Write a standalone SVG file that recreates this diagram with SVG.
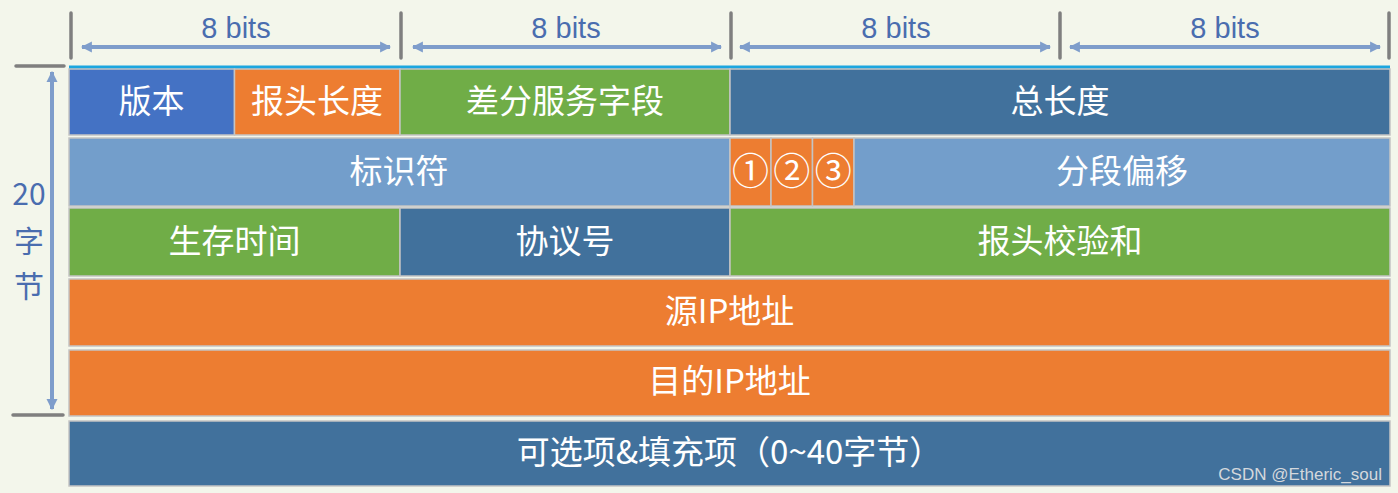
<svg xmlns="http://www.w3.org/2000/svg" width="1398" height="493" viewBox="0 0 1398 493">
<style>
.cell{stroke:#c4c4c4;stroke-width:1.5}
.blue{fill:#4472C4}.orange{fill:#ED7D31}.green{fill:#70AD47}.dark{fill:#41719C}.light{fill:#739ECB}
.t{font-family:"Noto Sans CJK SC","Noto Sans",sans-serif;font-size:33px;fill:#ffffff;text-anchor:middle}
.c{font-family:"Noto Sans CJK SC","Noto Sans",sans-serif;font-size:37px;fill:#ffffff;text-anchor:middle}
.dim{font-family:"Liberation Sans","Noto Sans",sans-serif;font-size:29px;fill:#4A6DAF;text-anchor:middle}
.side{font-family:"Noto Sans CJK SC","Liberation Sans",sans-serif;font-size:30px;fill:#4A6DAF;text-anchor:middle}
.tick{stroke:#7f7f7f;stroke-width:3.5;stroke-linecap:round}
.arr{stroke:#7E9DCB;stroke-width:4;fill:none}
</style>
<defs>
<marker id="ah" viewBox="0 0 10 10" refX="9" refY="5" markerWidth="11" markerHeight="12" markerUnits="userSpaceOnUse" orient="auto-start-reverse">
<path d="M0,0 L10,5 L0,10 Z" fill="#7E9DCB"/>
</marker>
</defs>
<rect x="0" y="0" width="1398" height="493" fill="#F3F6EB"/>
<g id="dimensions">
<line class="tick" x1="71" y1="13" x2="71" y2="58"/>
<line class="tick" x1="401" y1="13" x2="401" y2="58"/>
<line class="tick" x1="731" y1="13" x2="731" y2="58"/>
<line class="tick" x1="1060" y1="13" x2="1060" y2="58"/>
<line class="tick" x1="1389" y1="13" x2="1389" y2="58"/>
<line class="tick" x1="16" y1="66" x2="64" y2="66"/>
<line class="tick" x1="13" y1="415" x2="63" y2="415"/>
<text class="dim" x="236" y="38">8 bits</text>
<text class="dim" x="566" y="38">8 bits</text>
<text class="dim" x="896" y="38">8 bits</text>
<text class="dim" x="1225" y="38">8 bits</text>
<text class="side" x="29" y="205">20</text>
<text class="side" x="29" y="252">字</text>
<text class="side" x="29" y="297">节</text>
</g>
<g id="connectors">
<line class="arr" x1="82" y1="47" x2="390" y2="47" marker-start="url(#ah)" marker-end="url(#ah)"/>
<line class="arr" x1="413" y1="47" x2="721" y2="47" marker-start="url(#ah)" marker-end="url(#ah)"/>
<line class="arr" x1="740" y1="47" x2="1050" y2="47" marker-start="url(#ah)" marker-end="url(#ah)"/>
<line class="arr" x1="1070" y1="47" x2="1380" y2="47" marker-start="url(#ah)" marker-end="url(#ah)"/>
<line class="arr" x1="52" y1="72" x2="52" y2="409" marker-start="url(#ah)" marker-end="url(#ah)"/>
</g>
<rect x="69" y="65.5" width="1321" height="3.5" fill="#1CA6DF"/>
<g id="version"><rect class="cell blue" x="69" y="69" width="165.5" height="66"/><text class="t" x="151.5" y="113">版本</text></g>
<g id="ihl"><rect class="cell orange" x="234.5" y="69" width="165.5" height="66"/><text class="t" x="317" y="113">报头长度</text></g>
<g id="dsfield"><rect class="cell green" x="400" y="69" width="330" height="66"/><text class="t" x="565" y="113">差分服务字段</text></g>
<g id="totallen"><rect class="cell dark" x="730" y="69" width="660" height="66"/><text class="t" x="1060" y="113">总长度</text></g>
<g id="ident"><rect class="cell light" x="69" y="138" width="661" height="68"/><text class="t" x="399" y="183">标识符</text></g>
<g id="flag1"><rect class="cell orange" x="730" y="138" width="41" height="68"/><text class="c" x="750.5" y="185">①</text></g>
<g id="flag2"><rect class="cell orange" x="771" y="138" width="41.5" height="68"/><text class="c" x="791.8" y="185">②</text></g>
<g id="flag3"><rect class="cell orange" x="812.5" y="138" width="41.5" height="68"/><text class="c" x="833.2" y="185">③</text></g>
<g id="fragoff"><rect class="cell light" x="854" y="138" width="536" height="68"/><text class="t" x="1122" y="183">分段偏移</text></g>
<g id="ttl"><rect class="cell green" x="69" y="208" width="331" height="68"/><text class="t" x="234.5" y="253">生存时间</text></g>
<g id="proto"><rect class="cell dark" x="400" y="208" width="330" height="68"/><text class="t" x="565" y="253">协议号</text></g>
<g id="checksum"><rect class="cell green" x="730" y="208" width="660" height="68"/><text class="t" x="1060" y="253">报头校验和</text></g>
<g id="srcip"><rect class="cell orange" x="69" y="279" width="1321" height="67"/><text class="t" x="729.5" y="323">源IP地址</text></g>
<g id="dstip"><rect class="cell orange" x="69" y="350" width="1321" height="66"/><text class="t" x="729.5" y="393">目的IP地址</text></g>
<g id="options"><rect class="cell dark" x="69" y="421" width="1321" height="65"/><text class="t" x="729.5" y="464">可选项&amp;填充项（0~40字节）</text>
<text x="1382" y="480" font-family="'Liberation Sans',Arial,sans-serif" font-size="17" fill="#D4D8DC" text-anchor="end">CSDN @Etheric_soul</text></g>
</svg>
